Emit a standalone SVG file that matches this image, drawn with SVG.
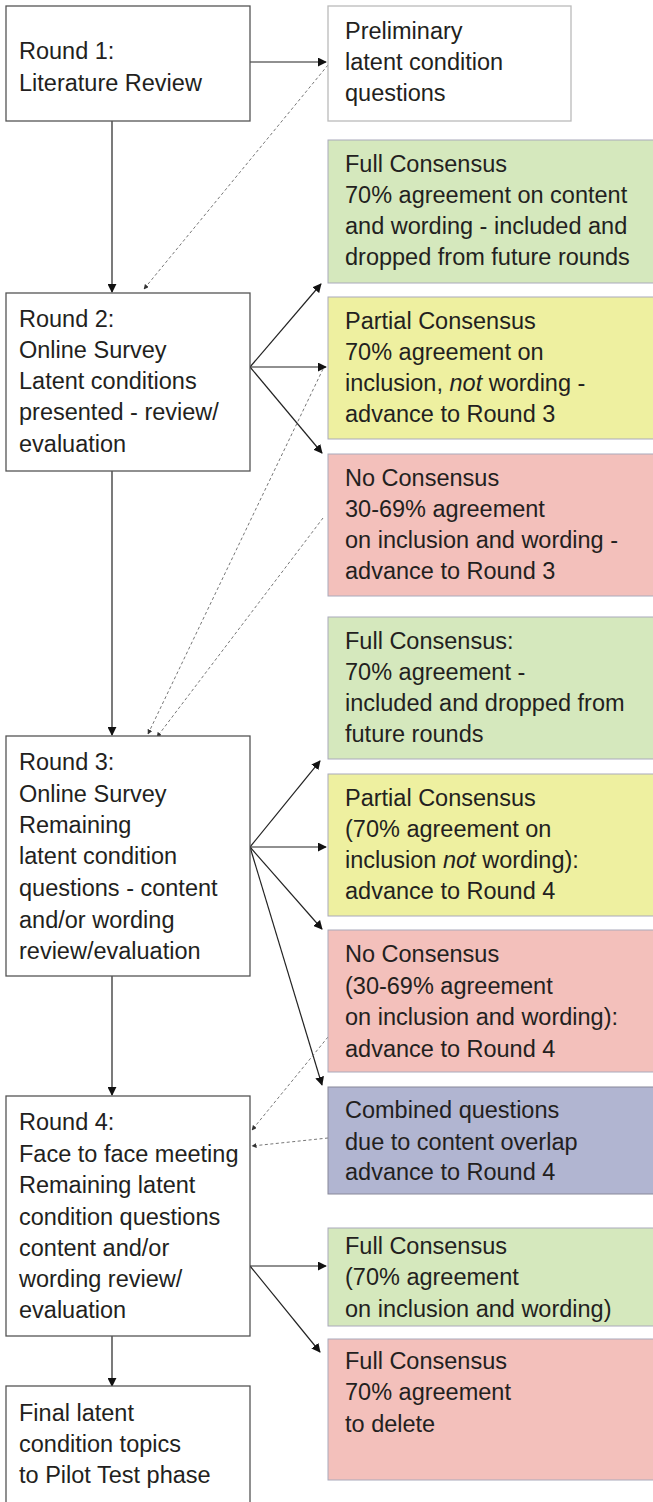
<svg xmlns="http://www.w3.org/2000/svg" width="653" height="1502" viewBox="0 0 653 1502">
<style>
text{font-family:"Liberation Sans",Arial,sans-serif;font-size:23.5px;fill:#231f20}
.wb{fill:#fff;stroke:#555;stroke-width:1.3}
.pb{fill:#fff;stroke:#bbb;stroke-width:1.3}
.g{fill:#d5e8bd;stroke:#aab;stroke-width:1}
.y{fill:#eef0a0;stroke:#aab;stroke-width:1}
.r{fill:#f3c0bb;stroke:#aab;stroke-width:1}
.b{fill:#b1b5d1;stroke:#889;stroke-width:1}
.c{fill:none;stroke:#222;stroke-width:1.2;marker-end:url(#ah)}
.d{fill:none;stroke:#777;stroke-width:1;stroke-dasharray:3,2.5;marker-end:url(#dh)}
.i{font-style:italic}
</style>
<defs>
<marker id="ah" viewBox="0 0 10 10" refX="9" refY="5" markerWidth="9" markerHeight="9" markerUnits="userSpaceOnUse" orient="auto"><path d="M0,0L10,5L0,10z" fill="#111"/></marker>
<marker id="dh" viewBox="0 0 10 10" refX="9" refY="5" markerWidth="5" markerHeight="5" markerUnits="userSpaceOnUse" orient="auto"><path d="M0,0L10,5L0,10z" fill="#333"/></marker>
</defs>
<g id="connectors">
<path class="c" d="M250,62H326"/>
<path class="c" d="M112,121V292"/>
<path class="d" d="M328,65L144,289"/>
<path class="c" d="M250,367L321,284"/>
<path class="c" d="M250,367H326"/>
<path class="c" d="M250,367L322,453"/>
<path class="c" d="M112,471V735"/>
<path class="d" d="M323,369L148,734"/>
<path class="d" d="M323,518L157,737"/>
<path class="c" d="M250,847L320,761"/>
<path class="c" d="M250,847H326"/>
<path class="c" d="M250,847L322,929"/>
<path class="c" d="M250,847L322,1085"/>
<path class="c" d="M112,976V1095"/>
<path class="d" d="M328,1037L252,1130"/>
<path class="d" d="M328,1138L252,1146"/>
<path class="c" d="M250,1266H326"/>
<path class="c" d="M250,1266L320,1352"/>
<path class="c" d="M112,1336V1386"/>
</g>
<g id="round1"><rect class="wb" x="6" y="6" width="244" height="115"/><text x="19" y="59">Round 1:</text><text x="19" y="91">Literature Review</text></g>
<g id="prelim"><rect class="pb" x="328" y="6" width="243" height="115"/><text x="345" y="39">Preliminary</text><text x="345" y="70">latent condition</text><text x="345" y="101">questions</text></g>
<g id="full1"><rect class="g" x="328" y="140" width="330" height="143"/><text x="345" y="172">Full Consensus</text><text x="345" y="203">70% agreement on content</text><text x="345" y="234">and wording - included and</text><text x="345" y="265">dropped from future rounds</text></g>
<g id="round2"><rect class="wb" x="6" y="293" width="244" height="178"/><text x="19" y="327">Round 2:</text><text x="19" y="358">Online Survey</text><text x="19" y="389">Latent conditions</text><text x="19" y="420">presented - review/</text><text x="19" y="452">evaluation</text></g>
<g id="partial1"><rect class="y" x="328" y="297" width="330" height="142"/><text x="345" y="329">Partial Consensus</text><text x="345" y="360">70% agreement on</text><text x="345" y="391">inclusion, <tspan class="i">not</tspan> wording -</text><text x="345" y="422">advance to Round 3</text></g>
<g id="no1"><rect class="r" x="328" y="454" width="330" height="142"/><text x="345" y="486">No Consensus</text><text x="345" y="517">30-69% agreement</text><text x="345" y="548">on inclusion and wording -</text><text x="345" y="579">advance to Round 3</text></g>
<g id="full2"><rect class="g" x="328" y="617" width="330" height="142"/><text x="345" y="649">Full Consensus:</text><text x="345" y="680">70% agreement -</text><text x="345" y="711">included and dropped from</text><text x="345" y="742">future rounds</text></g>
<g id="round3"><rect class="wb" x="6" y="736" width="244" height="240"/><text x="19" y="770">Round 3:</text><text x="19" y="802">Online Survey</text><text x="19" y="833">Remaining</text><text x="19" y="864">latent condition</text><text x="19" y="896">questions - content</text><text x="19" y="928">and/or wording</text><text x="19" y="959">review/evaluation</text></g>
<g id="partial2"><rect class="y" x="328" y="774" width="330" height="142"/><text x="345" y="806">Partial Consensus</text><text x="345" y="837">(70% agreement on</text><text x="345" y="868">inclusion <tspan class="i">not</tspan> wording):</text><text x="345" y="899">advance to Round 4</text></g>
<g id="no2"><rect class="r" x="328" y="930" width="330" height="142"/><text x="345" y="962">No Consensus</text><text x="345" y="994">(30-69% agreement</text><text x="345" y="1025">on inclusion and wording):</text><text x="345" y="1057">advance to Round 4</text></g>
<g id="combined"><rect class="b" x="328" y="1087" width="330" height="107"/><text x="345" y="1118">Combined questions</text><text x="345" y="1150">due to content overlap</text><text x="345" y="1180">advance to Round 4</text></g>
<g id="round4"><rect class="wb" x="6" y="1096" width="244" height="240"/><text x="19" y="1130">Round 4:</text><text x="19" y="1162">Face to face meeting</text><text x="19" y="1193">Remaining latent</text><text x="19" y="1225">condition questions</text><text x="19" y="1256">content and/or</text><text x="19" y="1287">wording review/</text><text x="19" y="1318">evaluation</text></g>
<g id="full3"><rect class="g" x="328" y="1228" width="330" height="98"/><text x="345" y="1254">Full Consensus</text><text x="345" y="1285">(70% agreement</text><text x="345" y="1317">on inclusion and wording)</text></g>
<g id="full4"><rect class="r" x="328" y="1339" width="330" height="141"/><text x="345" y="1369">Full Consensus</text><text x="345" y="1400">70% agreement</text><text x="345" y="1432">to delete</text></g>
<g id="final"><rect class="wb" x="6" y="1386" width="244" height="130"/><text x="19" y="1421">Final latent</text><text x="19" y="1452">condition topics</text><text x="19" y="1483">to Pilot Test phase</text></g>
</svg>
